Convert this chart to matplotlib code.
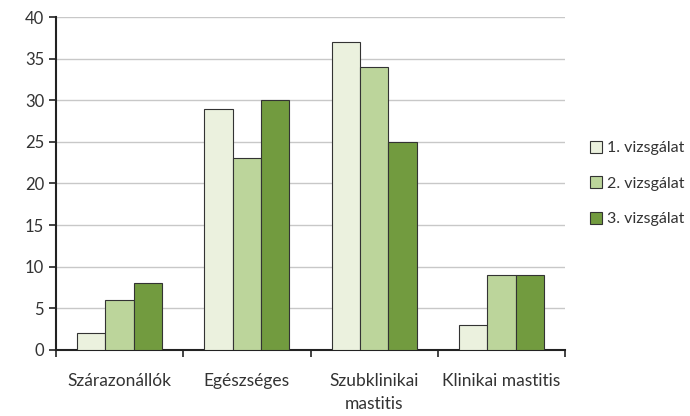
import matplotlib.pyplot as plt
import numpy as np

plt.rcParams['font.family'] = ['Lato', 'DejaVu Sans']

categories = ['Szárazonállók', 'Egészséges', 'Szubklinikai\nmastitis', 'Klinikai mastitis']
series_names = ['1. vizsgálat', '2. vizsgálat', '3. vizsgálat']
vizsg1 = [2, 29, 37, 3]
vizsg2 = [6, 23, 34, 9]
vizsg3 = [8, 30, 25, 9]
colors = ['#ebf1de', '#bcd59b', '#729b3f']

fig = plt.figure(figsize=(6.9, 4.16), dpi=100)
ax = fig.add_axes([0.081, 0.159, 0.738, 0.8])

x = np.arange(len(categories))
w = 0.223
for k, vals in enumerate([vizsg1, vizsg2, vizsg3]):
    ax.bar(x + (k - 1) * w, vals, w, color=colors[k], edgecolor='#333333',
           linewidth=0.8, label=series_names[k], zorder=3)

ax.set_xlim(-0.5, len(categories) - 0.5)
ax.set_ylim(0, 40)
ax.set_yticks(range(0, 41, 5))
ax.yaxis.grid(True, color='#c8c8c8', linewidth=1, zorder=0)
ax.set_xticks(x)
ax.set_xticklabels(categories, fontsize=12.5, color='#333333', linespacing=1.5)
ax.set_xticks(np.arange(-0.5, len(categories)), minor=True)
ax.tick_params(axis='x', which='major', length=0, pad=17)
ax.tick_params(axis='x', which='minor', length=5, width=1.2, color='#222222')
ax.tick_params(axis='y', length=5, width=1.2, color='#222222', labelsize=12,
               labelcolor='#333333')
for s in ['top', 'right']:
    ax.spines[s].set_visible(False)
for s in ['left', 'bottom']:
    ax.spines[s].set_linewidth(1.5)
    ax.spines[s].set_color('#222222')

leg = ax.legend(loc='center left', bbox_to_anchor=(1.02, 0.5), frameon=False,
                fontsize=11.5, handlelength=0.8, handleheight=0.8,
                handletextpad=0.3, labelspacing=1.3)
for t in leg.get_texts():
    t.set_color('#333333')

fig.savefig('out.png', dpi=100)
